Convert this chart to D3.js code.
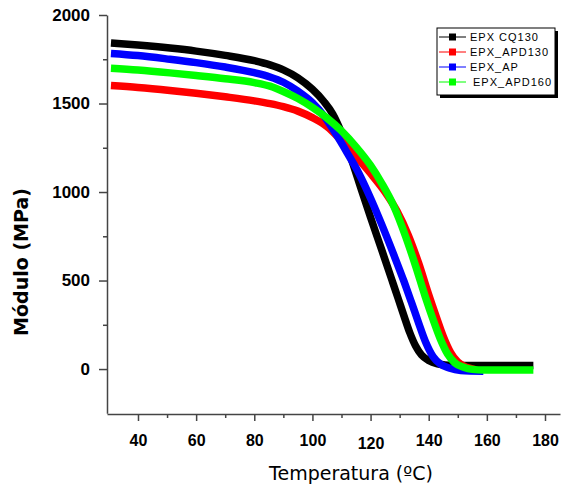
<!DOCTYPE html>
<html>
<head>
<meta charset="utf-8">
<script src="https://cdn.jsdelivr.net/npm/d3@7"></script>
<style>
  body { margin: 0; background: #fff; }
  svg { display: block; font-family: 'DejaVu Sans', sans-serif; }
  .axis path, .axis line { stroke: #444; stroke-width: 1.5; }
  .legend-label { font-family: 'Liberation Sans', Arial, sans-serif; font-size: 11px; letter-spacing: 1px; }
</style>
</head>
<body>
<script>
// ============= Data =============
// Temperatura (ºC) and Módulo (MPa) for each sample
const tempCQ130 = [30.7, 40, 51, 60, 70, 80, 85.4, 90, 95, 100, 104, 107, 110, 113.2, 117, 120, 124, 127.3, 129.5, 131.5, 133.5, 135.5, 137.5, 140, 143, 148, 176];
const modCQ130  = [1842, 1830, 1813, 1796, 1772, 1742, 1718, 1690, 1645, 1580, 1510, 1440, 1335, 1195, 1005, 857, 665, 505, 398, 300, 205, 130, 80, 48, 30, 20, 20];

const tempAPD130 = [30.7, 40, 51, 60, 70, 80, 85.4, 90, 95, 100, 105, 110, 115, 120, 125, 129, 133, 136.5, 140, 142.5, 145, 147.5, 150, 153, 156];
const modAPD130  = [1602, 1591, 1574, 1558, 1538, 1515, 1499, 1482, 1457, 1420, 1370, 1290, 1200, 1105, 1000, 895, 755, 600, 420, 300, 185, 95, 40, 10, -4];

const tempAP = [30.7, 40, 51, 60, 70, 80, 85.4, 90, 95, 100, 104, 108, 112, 116, 120, 124, 128, 131.5, 134, 136.5, 139, 141.5, 144, 147, 151, 158.8];
const modAP  = [1783, 1771, 1750, 1731, 1706, 1674, 1650, 1620, 1570, 1505, 1430, 1330, 1220, 1105, 965, 810, 645, 495, 380, 262, 150, 70, 28, 6, -8, -12];

const tempAPD160 = [30.7, 40, 51, 60, 70, 80, 85.4, 90, 95, 100, 105, 110, 115, 120, 124, 128, 132, 135.5, 138.8, 141.5, 144, 146.5, 149, 152, 155, 159, 176];
const modAPD160  = [1699, 1689, 1673, 1658, 1640, 1618, 1598, 1568, 1528, 1478, 1418, 1345, 1255, 1150, 1045, 920, 752, 582, 410, 280, 170, 85, 35, 10, -2, -6, -6];

const seriesNames = ['EPX CQ130', 'EPX_APD130', 'EPX_AP', 'EPX_APD160'];
const seriesTemps = [tempCQ130, tempAPD130, tempAP, tempAPD160];
const seriesMods  = [modCQ130, modAPD130, modAP, modAPD160];
const seriesColors = ['#000000', '#ff0000', '#0000ff', '#00ff00'];

const xTicks = [40, 60, 80, 100, 120, 140, 160, 180];
const yTicks = [0, 500, 1000, 1500, 2000];

// ============= Setup =============
const width = 561,
      height = 491;

const svg = d3.select('body')
  .append('svg')
    .attr('width', width)
    .attr('height', height);

const x = d3.scaleLinear()
  .domain([29.34, 185.16])
  .range([107, 560]);

const y = d3.scaleLinear()
  .domain([-250, 2000])
  .range([413.3, 15]);

// ============= Axes =============
// minor ticks first, no labels
svg.append('g')
  .attr('class', 'axis')
  .attr('transform', 'translate(0,414)')
  .call(d3.axisBottom(x).tickValues(d3.range(50, 180, 20)).tickSize(4).tickFormat(''))
  .call(g => g.select('.domain').remove());

svg.append('g')
  .attr('class', 'axis')
  .attr('transform', 'translate(107,0)')
  .call(d3.axisLeft(y).tickValues(d3.range(250, 2000, 500)).tickSize(4).tickFormat(''))
  .call(g => g.select('.domain').remove());

const xAxis = svg.append('g')
  .attr('class', 'axis')
  .attr('transform', 'translate(0,414)')
  .call(d3.axisBottom(x).tickValues(xTicks).tickSize(7).tickSizeOuter(0).tickPadding(14));

xAxis.selectAll('text')
  .attr('fill', '#000')
  .style('font-size', '16px')
  .style('font-weight', 'bold')
  .attr('dy', d => d === 120 ? '0.9em' : '0.71em');

const yAxis = svg.append('g')
  .attr('class', 'axis')
  .attr('transform', 'translate(107,0)')
  .call(d3.axisLeft(y).tickValues(yTicks).tickSize(8).tickSizeOuter(0).tickPadding(9).tickFormat(d3.format('d')));

yAxis.selectAll('text')
  .attr('fill', '#000')
  .style('font-size', '17px')
  .style('font-weight', 'bold');

// Axis titles
svg.append('text')
  .attr('x', 351)
  .attr('y', 480)
  .attr('text-anchor', 'middle')
  .style('font-size', '19px')
  .text('Temperatura (ºC)');

svg.append('text')
  .attr('transform', 'translate(28,262) rotate(-90)')
  .attr('text-anchor', 'middle')
  .style('font-size', '19px')
  .style('font-weight', 'bold')
  .text('Módulo (MPa)');

// ============= Curves =============
const line = d3.line()
  .x(d => x(d[0]))
  .y(d => y(d[1]))
  .curve(d3.curveMonotoneX);

seriesNames.forEach((name, i) => {
  const pts = seriesTemps[i].map((t, j) => [t, seriesMods[i][j]]);
  svg.append('path')
    .datum(pts)
    .attr('fill', 'none')
    .attr('stroke', seriesColors[i])
    .attr('stroke-width', 7.5)
    .attr('d', line);
});

// ============= Legend =============
const legend = svg.append('g')
  .attr('transform', 'translate(437,28)');

legend.append('rect')
  .attr('x', 3).attr('y', 3)
  .attr('width', 118).attr('height', 67)
  .attr('fill', '#000');

legend.append('rect')
  .attr('width', 118).attr('height', 67)
  .attr('fill', '#fff')
  .attr('stroke', '#000');

const entry = legend.selectAll('.entry')
  .data(seriesNames)
  .enter()
  .append('g')
    .attr('class', 'entry')
    .attr('transform', (d, i) => 'translate(0,' + (9 + i*15) + ')');

entry.append('line')
  .attr('x1', 2).attr('x2', 29)
  .attr('stroke', (d, i) => seriesColors[i]);

entry.append('rect')
  .attr('x', 12).attr('y', -3.5)
  .attr('width', 7).attr('height', 7)
  .attr('fill', (d, i) => seriesColors[i]);

entry.append('text')
  .attr('class', 'legend-label')
  .attr('x', (d, i) => i === 3 ? 36 : 33)
  .attr('y', 4)
  .text(d => d);
</script>
</body>
</html>
